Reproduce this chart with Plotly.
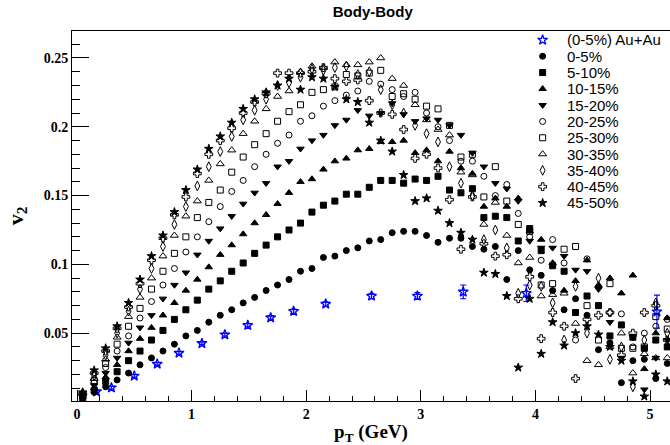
import plotly.graph_objects as go

# ---------------- data ----------------
pt = [0.05, 0.15, 0.25, 0.35, 0.45, 0.55, 0.65, 0.75, 0.85, 0.95,
      1.05, 1.15, 1.25, 1.35, 1.45, 1.55, 1.65, 1.75, 1.85, 1.95,
      2.05, 2.15, 2.25, 2.35, 2.45, 2.55, 2.65, 2.75, 2.85, 2.95,
      3.05, 3.15, 3.25, 3.35, 3.45, 3.55, 3.65, 3.75, 3.85, 3.95,
      4.05, 4.15, 4.25, 4.35, 4.45, 4.55, 4.65, 4.75, 4.85, 4.95,
      5.05, 5.15]

auau_pt = [0.17, 0.30, 0.50, 0.70, 0.89, 1.09, 1.29, 1.49, 1.69, 1.89, 2.17, 2.57, 2.97, 3.37, 3.92, 5.06]
auau_v2 = [0.0075, 0.0104, 0.0189, 0.0276, 0.0356, 0.0426, 0.0489, 0.0557, 0.0613, 0.0659, 0.0712, 0.077, 0.077, 0.080, 0.079, 0.0656]
auau_err = [0.001, 0.001, 0.001, 0.001, 0.001, 0.001, 0.001, 0.0012, 0.0012, 0.0015, 0.0015, 0.002, 0.0025, 0.005, 0.006, 0.012]

c0_5 = [0.003, 0.007, 0.011, 0.016, 0.021, 0.027, 0.032, 0.037, 0.042, 0.048,
        0.052, 0.058, 0.063, 0.067, 0.072, 0.076, 0.081, 0.085, 0.089, 0.095,
        0.097, 0.105, 0.106, 0.110, 0.112, 0.117, 0.118, 0.123, 0.124, 0.124,
        0.121, 0.116, 0.119, 0.119, 0.113, 0.111, 0.113, 0.089, 0.110, 0.096,
        0.092, 0.081, 0.067, 0.075, 0.063, 0.038, 0.043, 0.014, 0.030, 0.031,
        0.017, 0.028]
c5_10 = [0.003, 0.0085, 0.015, 0.022, 0.030, 0.037, 0.045, 0.052, 0.060, 0.067,
         0.074, 0.082, 0.088, 0.095, 0.101, 0.108, 0.114, 0.120, 0.125, 0.130,
         0.138, 0.143, 0.146, 0.151, 0.151, 0.156, 0.161, 0.161, 0.159, 0.162,
         0.161, 0.164, 0.154, 0.152, 0.155, 0.134, 0.135, 0.134, 0.117, 0.126,
         0.110, 0.099, 0.095, 0.065, 0.077, 0.070, 0.048, 0.056, 0.047, 0.039,
         0.045, 0.040]
c10_15 = [0.004, 0.010, 0.018, 0.027, 0.037, 0.046, 0.054, 0.063, 0.072, 0.081,
          0.089, 0.098, 0.107, 0.114, 0.122, 0.130, 0.136, 0.144, 0.152, 0.160,
          0.162, 0.169, 0.175, 0.177, 0.183, 0.184, 0.189, 0.189, 0.190, 0.181,
          0.183, 0.175, 0.182, 0.170, 0.166, 0.142, 0.148, 0.142, 0.148, 0.124,
          0.118, 0.101, 0.081, 0.088, 0.103, 0.085, 0.090, 0.079, 0.092, 0.024,
          0.050, 0.061]
c15_20 = [0.004, 0.012, 0.021, 0.032, 0.043, 0.054, 0.063, 0.075, 0.085, 0.094,
          0.107, 0.117, 0.126, 0.135, 0.144, 0.152, 0.159, 0.171, 0.175, 0.184,
          0.190, 0.194, 0.201, 0.205, 0.212, 0.208, 0.210, 0.217, 0.209, 0.204,
          0.206, 0.205, 0.201, 0.194, 0.181, 0.171, 0.159, 0.155, 0.146, 0.117,
          0.112, 0.112, 0.106, 0.096, 0.095, 0.082, 0.058, 0.032, 0.047, 0.009,
          0.032, 0.045]
c20_25 = [0.005, 0.014, 0.025, 0.037, 0.048, 0.061, 0.073, 0.085, 0.097, 0.109,
          0.120, 0.131, 0.142, 0.153, 0.161, 0.171, 0.180, 0.188, 0.194, 0.204,
          0.208, 0.215, 0.219, 0.223, 0.226, 0.233, 0.231, 0.227, 0.222, 0.225,
          0.210, 0.200, 0.190, 0.175, 0.175, 0.164, 0.150, 0.158, 0.137, 0.120,
          0.103, 0.118, 0.101, 0.045, 0.104, 0.070, 0.065, 0.064, 0.040, 0.050,
          0.055, 0.060]
c25_30 = [0.005, 0.0155, 0.028, 0.042, 0.055, 0.068, 0.082, 0.095, 0.108, 0.120,
          0.134, 0.145, 0.154, 0.167, 0.178, 0.187, 0.195, 0.204, 0.211, 0.216,
          0.225, 0.227, 0.229, 0.238, 0.237, 0.239, 0.241, 0.222, 0.224, 0.220,
          0.215, 0.213, 0.201, 0.178, 0.180, 0.149, 0.171, 0.146, 0.129, 0.124,
          0.085, 0.086, 0.111, 0.113, 0.070, 0.045, 0.086, 0.039, 0.039, 0.040,
          0.062, 0.053]
c30_35 = [0.006, 0.017, 0.031, 0.047, 0.062, 0.076, 0.090, 0.106, 0.121, 0.135,
          0.146, 0.161, 0.173, 0.183, 0.195, 0.204, 0.213, 0.222, 0.226, 0.240,
          0.244, 0.243, 0.247, 0.245, 0.245, 0.247, 0.250, 0.235, 0.230, 0.216,
          0.205, 0.198, 0.194, 0.167, 0.165, 0.129, 0.145, 0.121, 0.101, 0.105,
          0.077, 0.078, 0.079, 0.057, 0.030, 0.027, 0.040, 0.050, 0.021, 0.035,
          0.032, 0.032]
c35_40 = [0.006, 0.019, 0.034, 0.050, 0.066, 0.082, 0.097, 0.113, 0.129, 0.142,
          0.157, 0.171, 0.182, 0.193, 0.205, 0.212, 0.220, 0.230, 0.232, 0.236,
          0.242, 0.241, 0.243, 0.244, 0.238, 0.240, 0.227, 0.216, 0.210, 0.201,
          0.195, 0.189, 0.171, 0.159, 0.150, 0.118, 0.125, 0.112, 0.079, 0.085,
          0.084, 0.072, 0.045, 0.084, 0.050, 0.090, 0.031, 0.040, 0.011, 0.045,
          0.072, 0.050]
c40_45 = [0.006, 0.021, 0.037, 0.0535, 0.069, 0.086, 0.103, 0.119, 0.136, 0.149,
          0.166, 0.180, 0.190, 0.199, 0.210, 0.218, 0.224, 0.239, 0.239, 0.239,
          0.240, 0.243, 0.235, 0.233, 0.234, 0.219, 0.210, 0.209, 0.198, 0.177,
          0.180, 0.170, 0.147, 0.111, 0.149, 0.115, 0.106, 0.107, 0.075, 0.091,
          0.046, 0.065, 0.055, 0.017, 0.060, 0.063, 0.065, 0.034, 0.050, 0.065,
          0.070, 0.045]
c45_50 = [0.007, 0.023, 0.039, 0.055, 0.072, 0.089, 0.106, 0.121, 0.138, 0.154,
          0.169, 0.184, 0.193, 0.203, 0.213, 0.220, 0.225, 0.230, 0.235, 0.227,
          0.236, 0.235, 0.229, 0.220, 0.218, 0.203, 0.190, 0.182, 0.165, 0.146,
          0.148, 0.139, 0.130, 0.123, 0.118, 0.094, 0.093, 0.077, 0.025, 0.075,
          0.035, 0.058, 0.041, 0.050, 0.055, 0.049, 0.040, 0.030, 0.015, 0.004,
          0.020, 0.015]

labels = ["(0-5%) Au+Au", "0-5%", "5-10%", "10-15%", "15-20%", "20-25%",
          "25-30%", "30-35%", "35-40%", "40-45%", "45-50%"]

series = [c0_5, c5_10, c10_15, c15_20, c20_25, c25_30, c30_35, c35_40, c40_45, c45_50]

# ---------------- styles ----------------
BLUE = "#0000ff"
symbols = ["star-open", "circle", "square", "triangle-up", "triangle-down", "circle-open",
           "square-open", "triangle-up-open", "diamond-tall-open", "cross-open", "star"]
sizes = [7.5, 6, 6, 6.5, 6.5, 6, 6, 7, 7, 6.5, 6.5]
colors = [BLUE] + ["black"] * 10

fig = go.Figure()

fig.add_trace(go.Scatter(
    x=auau_pt, y=auau_v2, mode="markers", name=labels[0],
    marker=dict(symbol=symbols[0], size=sizes[0], color=BLUE, line=dict(width=1.3, color=BLUE)),
    error_y=dict(type="data", array=auau_err, color=BLUE, thickness=1.2, width=3),
    showlegend=False))

for k, vals in enumerate(series, start=1):
    fig.add_trace(go.Scatter(
        x=pt, y=vals, mode="markers", name=labels[k],
        marker=dict(symbol=symbols[k], size=sizes[k], color="black",
                    line=dict(width=1, color="black")),
        showlegend=False))

# compact ROOT-like legend: keys placed on an overlay axis by entry index
idx = list(range(len(labels)))
for k in idx:
    fig.add_trace(go.Scatter(
        x=[0.787], y=[-k], xaxis="x2", yaxis="y2", mode="markers",
        marker=dict(symbol=symbols[k], size=sizes[k], color=colors[k],
                    line=dict(width=1.3 if k == 0 else 1, color=colors[k])),
        showlegend=False, hoverinfo="skip"))
    fig.add_annotation(x=0.824, y=-k, xref="x2", yref="y2", text=labels[k],
                       showarrow=False, xanchor="left", yanchor="middle",
                       font=dict(family="Liberation Sans", size=15, color="black"))

tickfont = dict(family="Liberation Serif", size=14, color="black", weight="bold")

fig.update_layout(
    width=670, height=445,
    margin=dict(l=72, r=0, t=31, b=44),
    paper_bgcolor="white", plot_bgcolor="white",
    title=dict(text="Body-Body", x=0.503, xref="paper", y=1 - 12 / 445, yref="container",
               xanchor="center", yanchor="middle",
               font=dict(family="Liberation Sans", size=15, color="black", weight="bold")),
    xaxis=dict(range=[-0.0436, 5.174], showgrid=False, zeroline=False,
               showline=True, linecolor="black", linewidth=1, mirror=True,
               ticks="inside", tick0=0, dtick=1, ticklen=11, tickwidth=1, tickcolor="black",
               minor=dict(ticks="inside", dtick=0.2, ticklen=5, tickwidth=1, tickcolor="black"),
               tickfont=tickfont,
               title=dict(text="p<sub>T</sub> (GeV)", standoff=3,
                          font=dict(family="Liberation Serif", size=19, color="black", weight="bold"))),
    yaxis=dict(range=[0.0007, 0.2696], showgrid=False, zeroline=False,
               showline=True, linecolor="black", linewidth=1, mirror=False,
               ticks="inside", tick0=0, dtick=0.05, ticklen=17, tickwidth=1, tickcolor="black",
               minor=dict(ticks="inside", dtick=0.01, ticklen=8, tickwidth=1, tickcolor="black"),
               tickfont=tickfont,
               title=dict(text="v<sub>2</sub>", standoff=14,
                          font=dict(family="Liberation Serif", size=22, color="black", weight="bold"))),
    xaxis2=dict(overlaying="x", range=[0, 1], visible=False, fixedrange=True),
    yaxis2=dict(overlaying="y", range=[-22.15, 0.55], visible=False, fixedrange=True),
    showlegend=False,
)

fig.write_html("out.html",
               config={"displayModeBar": False},
               post_script="document.body.style.margin='0px';document.body.style.padding='0px';")
